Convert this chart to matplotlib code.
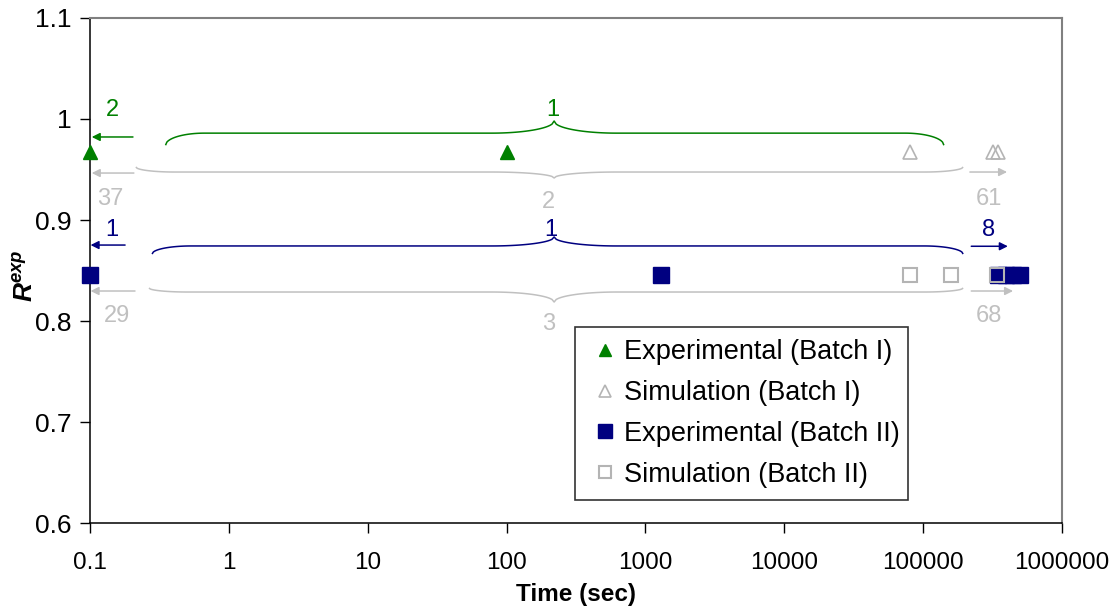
import numpy as np
import matplotlib.pyplot as plt

plt.rcParams['font.family'] = ['Liberation Sans', 'DejaVu Sans']
plt.rcParams['mathtext.fontset'] = 'custom'
plt.rcParams['mathtext.bfit'] = 'Liberation Sans:bold:italic'

# data
exp1_t = [0.1, 100]
exp1_r = [0.967, 0.967]
sim1_t = [80000, 320000, 345000]
sim1_r = [0.967, 0.967, 0.967]
exp2_t = [0.1, 1300, 345000, 395000, 445000, 495000]
exp2_r = [0.846, 0.846, 0.846, 0.846, 0.846, 0.846]
sim2_t = [80000, 158000, 340000]
sim2_r = [0.846, 0.846, 0.846]

xticks = [0.1, 1, 10, 100, 1000, 10000, 100000, 1000000]
xticklabels = ['0.1', '1', '10', '100', '1000', '10000', '100000', '1000000']
yticks = [0.6, 0.7, 0.8, 0.9, 1.0, 1.1]
yticklabels = ['0.6', '0.7', '0.8', '0.9', '1', '1.1']

green = '#008000'
navy = '#000080'
grey = '#c0c0c0'


def brace(ax, x0, x1, xm, yflat, yend, ytip, wend=0.28, wtip=0.45, color='k'):
    # curly brace drawn in log10(x) space
    a, b, m = np.log10(x0), np.log10(x1), np.log10(xm)
    xs, ys = [], []
    t = np.linspace(0, 1, 30)
    # left curl
    xs += list(a + wend * t)
    ys += list(yend + (yflat - yend) * np.sqrt(1 - (1 - t) ** 2))
    # flat to tip
    xs += list(m - wtip + wtip * t)
    ys += list(yflat + (ytip - yflat) * (1 - np.sqrt(1 - t ** 2)))
    # tip to flat
    xs += list(m + wtip * t)
    ys += list(ytip + (yflat - ytip) * np.sqrt(1 - (1 - t) ** 2))
    # right curl
    xs += list(b - wend + wend * t)
    ys += list(yflat + (yend - yflat) * (1 - np.sqrt(1 - t ** 2)))
    ax.plot(10 ** np.array(xs), ys, color=color, lw=1.1, solid_capstyle='butt')


def arrow(ax, x0, x1, y, color):
    ax.annotate('', xy=(x1, y), xytext=(x0, y),
                arrowprops=dict(arrowstyle='-|>', color=color, lw=1.1,
                                mutation_scale=12, shrinkA=0, shrinkB=0))


fig = plt.figure(figsize=(11.19, 6.10), dpi=100)
ax = fig.add_axes([0.0804, 0.1426, 0.8687, 0.8279])
ax.set_xscale('log')
ax.set_xlim(0.1, 1000000)
ax.set_ylim(0.6, 1.1)

ax.plot(exp1_t, exp1_r, ls='none', marker='^', ms=10, color=green,
        label='Experimental (Batch I)', clip_on=False, zorder=4)
ax.plot(sim1_t, sim1_r, ls='none', marker='^', ms=10, mfc='none', mec='#b4b4b4',
        mew=1.2, label='Simulation (Batch I)', clip_on=False, zorder=4)
ax.plot(exp2_t, exp2_r, ls='none', marker='s', ms=11, color=navy,
        label='Experimental (Batch II)', clip_on=False, zorder=3)
ax.plot(sim2_t, sim2_r, ls='none', marker='s', ms=10, mfc='none', mec='#b4b4b4',
        mew=1.5, label='Simulation (Batch II)', clip_on=False, zorder=4)

# braces
brace(ax, 0.35, 141000, 220, 0.986, 0.974, 0.998, color=green)
brace(ax, 0.214, 194000, 220, 0.9475, 0.9525, 0.9416, color=grey)
brace(ax, 0.28, 194000, 220, 0.8743, 0.8663, 0.8832, color=navy)
brace(ax, 0.266, 194000, 220, 0.8287, 0.8327, 0.8188, color=grey)

# arrows
arrow(ax, 0.204, 0.103, 0.9822, green)
arrow(ax, 0.207, 0.103, 0.9465, grey)
arrow(ax, 0.179, 0.101, 0.8752, navy)
arrow(ax, 0.211, 0.101, 0.8297, grey)
arrow(ax, 217000, 402000, 0.9475, grey)
arrow(ax, 222000, 407000, 0.874, navy)
arrow(ax, 222000, 444000, 0.8297, grey)

fs = 17
for x, y, s, c in [(0.144, 1.009, '2', green), (0.139, 0.921, '37', grey),
                   (0.144, 0.890, '1', navy), (0.156, 0.805, '29', grey),
                   (298000, 0.921, '61', grey), (298000, 0.890, '8', navy),
                   (300000, 0.805, '68', grey),
                   (216, 1.009, '1', green), (200, 0.918, '2', grey),
                   (208, 0.890, '1', navy), (200, 0.797, '3', grey)]:
    ax.text(x, y, s, color=c, fontsize=fs, ha='center', va='center')

ax.set_xticks(xticks)
ax.set_xticklabels(xticklabels)
ax.minorticks_off()
ax.set_yticks(yticks)
ax.set_yticklabels(yticklabels)
ax.tick_params(axis='both', direction='out', length=7, width=1, colors='black',
               labelsize=19, pad=6)
ax.tick_params(axis='x', labelsize=17.5, pad=14)

for s in ['left', 'bottom']:
    ax.spines[s].set_color('black')
    ax.spines[s].set_linewidth(1.1)
for s in ['top', 'right']:
    ax.spines[s].set_color('#808080')
    ax.spines[s].set_linewidth(1.5)

ax.set_xlabel('Time (sec)', fontsize=17.5, fontweight='bold', labelpad=6)
ax.set_ylabel(r'$\mathbfit{R}^{\mathbfit{exp}}$', fontsize=19)
ax.yaxis.set_label_coords(-0.054, 0.49)

leg = ax.legend(loc='lower left', bbox_to_anchor=(0.499, 0.0455, 0.3426, 0.3525),
                mode='expand', fontsize=19.5, frameon=True, fancybox=False,
                handlelength=1.3, handletextpad=0.05, borderpad=0.45,
                labelspacing=0.55, markerscale=0.9, borderaxespad=0)
leg.get_frame().set_edgecolor('black')
leg.get_frame().set_linewidth(1.2)

fig.savefig('out.png', dpi=100)
